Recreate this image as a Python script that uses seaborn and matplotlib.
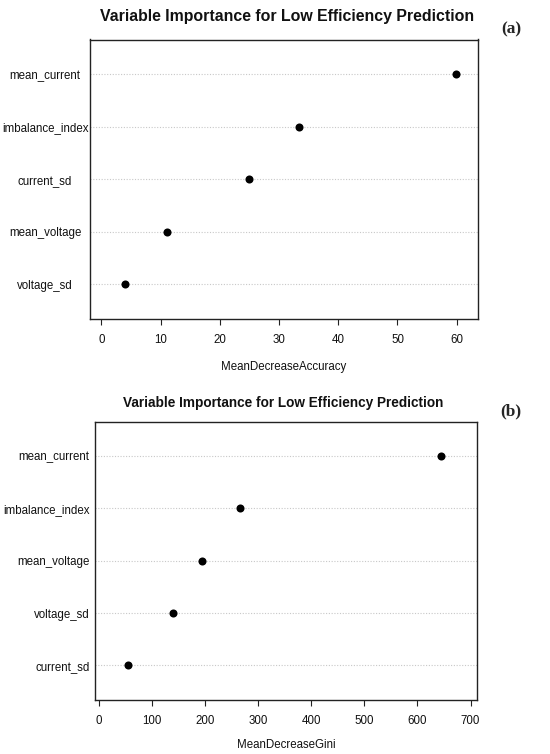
import pandas as pd
import matplotlib
matplotlib.use("Agg")
import matplotlib.pyplot as plt
import seaborn as sns

# data (top to bottom order)
acc_vars = ["mean_current", "imbalance_index", "current_sd", "mean_voltage", "voltage_sd"]
acc_vals = [59.8, 33.4, 25.0, 11.0, 3.9]

gini_vars = ["mean_current", "imbalance_index", "mean_voltage", "voltage_sd", "current_sd"]
gini_vals = [645, 265, 194, 140, 56]

title = "Variable Importance for Low Efficiency Prediction"

sns.set_theme(style="white")
plt.rcParams['font.family'] = ['Liberation Sans', 'DejaVu Sans']

W, H = 550, 754
fig = plt.figure(figsize=(W / 100, H / 100), dpi=100)
fig.patch.set_facecolor("white")


def px_axes(x0, y0, x1, y1):
    return fig.add_axes([x0 / W, 1 - y1 / H, (x1 - x0) / W, (y1 - y0) / H])


def dotpanel(ax, names, vals, xlim, xticks, xlabel, ha_labels, ypad, lpad):
    df = pd.DataFrame({"var": names, "val": vals})
    for i in range(len(names)):
        ax.axhline(i, color="#c8c8c8", lw=0.8, ls=(0, (1, 1.5)), zorder=1)
    sns.stripplot(data=df, x="val", y="var", order=names, jitter=False,
                  color="black", size=5.8, ax=ax, zorder=3)
    ax.set_xlim(*xlim)
    ax.set_ylim(len(names) - 1 + 0.66, -0.66)
    ax.set_xticks(xticks)
    ax.set_xlabel(xlabel, fontsize=8.3, labelpad=lpad, color="#111111")
    ax.set_ylabel("")
    ax.tick_params(axis="x", which="both", bottom=True, length=4.3, width=0.8,
                   color="#222222", labelsize=8.3, pad=6.5, labelcolor="#111111")
    ax.tick_params(axis="y", left=False, length=0, labelsize=8.3, pad=ypad,
                   labelcolor="#111111")
    for s in ax.spines.values():
        s.set_visible(True)
        s.set_color("#222222")
        s.set_linewidth(1.0)
    for lab in ax.get_yticklabels():
        lab.set_ha(ha_labels)


# panel (a)
ax1 = px_axes(90, 39.5, 478, 319)
dotpanel(ax1, acc_vars, acc_vals, (-1.94, 63.6), [0, 10, 20, 30, 40, 50, 60],
         "MeanDecreaseAccuracy", "center", 32.4, 11)
fig.text(287 / W, 1 - 17 / H, title, ha="center", va="center",
         fontsize=11.4, fontweight="bold", color="#111111")
fig.text(511 / W, 1 - 29 / H, "(a)", ha="center", va="center",
         fontsize=12.5, fontweight="bold", family=["Liberation Serif", "DejaVu Serif"])

# panel (b)
ax2 = px_axes(95, 421.5, 477, 700)
dotpanel(ax2, gini_vars, gini_vals, (-7, 712), [0, 100, 200, 300, 400, 500, 600, 700],
         "MeanDecreaseGini", "right", 4, 9)
fig.text(283 / W, 1 - 403 / H, title, ha="center", va="center",
         fontsize=9.8, fontweight="bold", color="#111111")
fig.text(511 / W, 1 - 411 / H, "(b)", ha="center", va="center",
         fontsize=12.5, fontweight="bold", family=["Liberation Serif", "DejaVu Serif"])

fig.savefig("out.png", dpi=100, facecolor="white")
